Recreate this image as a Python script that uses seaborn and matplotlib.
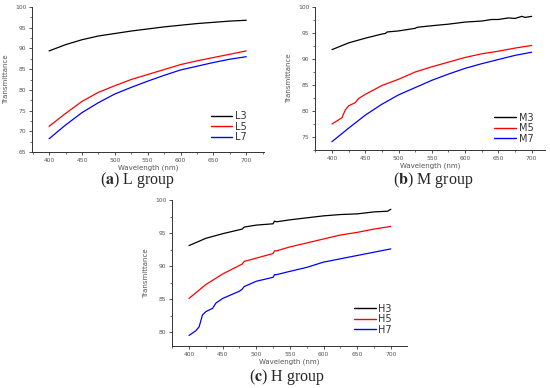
import matplotlib
matplotlib.use("Agg")
import matplotlib.pyplot as plt
from matplotlib.ticker import MultipleLocator
import seaborn as sns
import pandas as pd

# ---------------- data ----------------
wl_L = [400, 425, 450, 475, 500, 525, 550, 575, 600, 625, 650, 675, 700]
L3 = [89.4, 90.9, 92.1, 93.0, 93.6, 94.2, 94.7, 95.2, 95.6, 96.0, 96.3, 96.6, 96.8]
L5 = [71.2, 74.3, 77.2, 79.4, 81.0, 82.5, 83.7, 84.9, 86.1, 87.0, 87.8, 88.6, 89.4]
L7 = [68.2, 71.5, 74.5, 76.9, 79.0, 80.6, 82.1, 83.5, 84.8, 85.7, 86.6, 87.4, 88.0]

wl_M3 = [400, 425, 450, 475, 480, 483, 500, 525, 528, 550, 575, 600, 625, 640, 650, 665, 675, 685, 690, 700]
M3 = [91.8, 93.1, 94.0, 94.8, 94.9, 95.2, 95.4, 95.9, 96.1, 96.4, 96.7, 97.1, 97.3, 97.6, 97.6, 97.9, 97.8, 98.2, 98.0, 98.2]
wl_M5 = [400, 410, 415, 420, 425, 435, 440, 450, 475, 500, 525, 550, 575, 600, 625, 650, 675, 700]
M5 = [77.5, 78.3, 78.7, 80.2, 81.0, 81.6, 82.4, 83.2, 84.9, 86.1, 87.5, 88.5, 89.4, 90.3, 91.0, 91.5, 92.1, 92.6]
wl_M7 = [400, 425, 450, 475, 500, 525, 550, 575, 600, 625, 650, 675, 700]
M7 = [74.1, 76.7, 79.2, 81.3, 83.1, 84.5, 85.9, 87.1, 88.2, 89.1, 89.9, 90.7, 91.3]

wl_H3 = [400, 425, 450, 475, 479, 482, 500, 525, 527, 530, 550, 575, 600, 625, 650, 675, 695, 700]
H3 = [93.1, 94.2, 94.9, 95.5, 95.6, 95.9, 96.2, 96.4, 96.8, 96.7, 97.0, 97.3, 97.6, 97.8, 97.9, 98.2, 98.3, 98.6]
wl_H5 = [400, 425, 450, 475, 479, 482, 500, 525, 527, 530, 550, 575, 600, 625, 650, 675, 700]
H5 = [85.1, 87.2, 88.8, 90.1, 90.3, 90.7, 91.2, 91.9, 92.3, 92.3, 92.9, 93.5, 94.1, 94.7, 95.1, 95.6, 96.0]
wl_H7 = [400, 410, 415, 420, 425, 435, 440, 450, 475, 479, 482, 500, 525, 527, 530, 550, 575, 600, 625, 650, 675, 700]
H7 = [79.5, 80.2, 80.8, 82.6, 83.1, 83.6, 84.4, 85.1, 86.2, 86.5, 86.9, 87.7, 88.3, 88.7, 88.7, 89.2, 89.8, 90.6, 91.1, 91.6, 92.1, 92.6]

groups = {
    "L": [("L3", wl_L, L3), ("L5", wl_L, L5), ("L7", wl_L, L7)],
    "M": [("M3", wl_M3, M3), ("M5", wl_M5, M5), ("M7", wl_M7, M7)],
    "H": [("H3", wl_H3, H3), ("H5", wl_H5, H5), ("H7", wl_H7, H7)],
}
captions = {"L": r"($\mathbf{a}$) L group", "M": r"($\mathbf{b}$) M group", "H": r"($\mathbf{c}$) H group"}

# ---------------- style ----------------
sns.set_style("ticks")
plt.rcParams["font.family"] = ["DejaVu Sans"]
plt.rcParams["mathtext.fontset"] = "stix"

W, H = 550, 388
fig = plt.figure(figsize=(5.5, 3.88), dpi=100)

def frac(left, top, right, bottom):
    return [left / W, 1 - bottom / H, (right - left) / W, (bottom - top) / H]

layout = {
    "L": dict(rect=frac(32, 7, 264, 152), ylim=(65, 100), xlim=(374, 727), yt=5,
              leg=(0.77, 0.28), cap=(138, 180)),
    "M": dict(rect=frac(315, 7, 545, 150), ylim=(72.5, 100), xlim=(374.5, 720), yt=5,
              leg=(0.78, 0.26), cap=(433, 180)),
    "H": dict(rect=frac(172, 200, 407, 346), ylim=(77.9, 100), xlim=(374.7, 724), yt=5,
              leg=(0.775, 0.29), cap=(287, 377)),
}
palette = ["#000000", "#ff0000", "#0000ff"]
axis_col = "#333333"
tick_col = "#555555"

for g, series in groups.items():
    lay = layout[g]
    frames = [pd.DataFrame({"Wavelength": wl, "T": vals, "Sample": name}) for name, wl, vals in series]
    df = pd.concat(frames, ignore_index=True)
    ax = fig.add_axes(lay["rect"])
    sns.lineplot(data=df, x="Wavelength", y="T", hue="Sample", palette=palette,
                 linewidth=0.9, ax=ax, sort=True, estimator=None)
    ax.set_xlim(*lay["xlim"])
    ax.set_ylim(*lay["ylim"])
    ax.xaxis.set_major_locator(MultipleLocator(50))
    ax.xaxis.set_minor_locator(MultipleLocator(25))
    ax.yaxis.set_major_locator(MultipleLocator(lay["yt"]))
    ax.yaxis.set_minor_locator(MultipleLocator(lay["yt"] / 2))
    sns.despine(ax=ax)
    for s in ("left", "bottom"):
        ax.spines[s].set_color(axis_col)
        ax.spines[s].set_linewidth(0.7)
    ax.tick_params(which="major", length=2.5, width=0.6, color=axis_col,
                   labelsize=4.3, labelcolor=tick_col, pad=1.5, direction="out")
    ax.tick_params(which="minor", length=1.3, width=0.5, color=axis_col, direction="out")
    ax.set_xlabel("Wavelength (nm)", fontsize=5, color=tick_col, labelpad=1.5)
    ax.set_ylabel("Transmittance", fontsize=5, color=tick_col, labelpad=4)
    leg = ax.legend(loc="upper left", bbox_to_anchor=lay["leg"], frameon=False,
                    fontsize=7, handlelength=2.2, handletextpad=0.3,
                    labelspacing=0.05, borderpad=0, borderaxespad=0)
    for t in leg.get_texts():
        t.set_color("#333333")
    for h in leg.get_lines():
        h.set_linewidth(1.0)
    cx, cy = lay["cap"]
    fig.text(cx / W, 1 - cy / H, captions[g], ha="center", va="center",
             fontsize=11.5, family="Liberation Serif")

fig.savefig("out.png", dpi=100)
